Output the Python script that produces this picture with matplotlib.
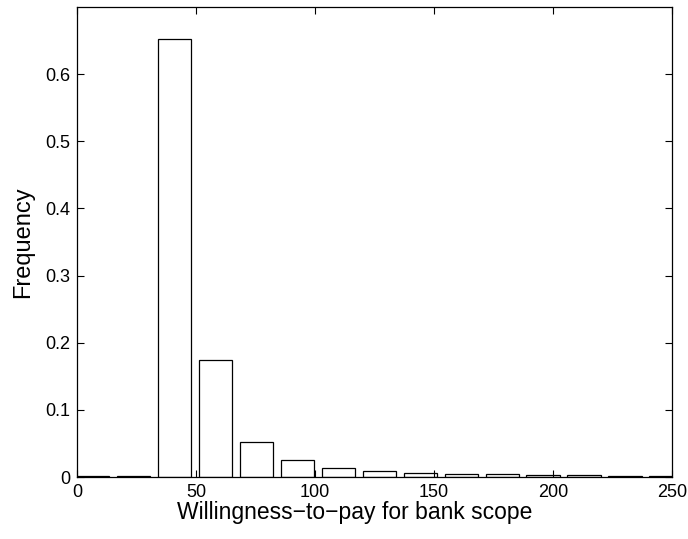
import matplotlib.pyplot as plt
import numpy as np

plt.rcParams['font.family'] = ['Liberation Sans', 'DejaVu Sans']

# Centros de los intervalos del histograma y frecuencias relativas
bin_centers = [6.6, 23.8, 41.0, 58.2, 75.4, 92.6, 109.8, 127.0, 144.2,
               161.4, 178.6, 195.8, 213.0, 230.2, 247.4]
frequencies = [0.001, 0.001, 0.652, 0.175, 0.052, 0.025, 0.0135, 0.009,
               0.0065, 0.005, 0.004, 0.0035, 0.0028, 0.0022, 0.0018]
bar_width = 14.0

x_ticks = [0, 50, 100, 150, 200, 250]
y_ticks = [0, 0.1, 0.2, 0.3, 0.4, 0.5, 0.6]
y_tick_labels = ['0', '0.1', '0.2', '0.3', '0.4', '0.5', '0.6']

fig = plt.figure(figsize=(6.88, 5.39), dpi=100)
ax = fig.add_axes([0.112, 0.115, 0.865, 0.872])

ax.bar(bin_centers, frequencies, width=bar_width, facecolor='white',
       edgecolor='black', linewidth=0.9)

ax.set_xlim(0, 250)
ax.set_ylim(0, 0.7)
ax.set_xticks(x_ticks)
ax.set_yticks(y_ticks)
ax.set_yticklabels(y_tick_labels)

# Estilo MATLAB: marcas hacia dentro en los cuatro lados
ax.tick_params(direction='in', top=True, right=True, length=5, width=0.8,
               labelsize=13, pad=5)
for spine in ax.spines.values():
    spine.set_linewidth(0.9)

ax.set_xlabel('Willingness\u2212to\u2212pay for bank scope', fontsize=16.5, labelpad=0)
ax.xaxis.label.set_x(0.466)  # en el original la etiqueta queda algo a la izquierda
ax.set_ylabel('Frequency', fontsize=17, labelpad=8)

plt.savefig('out.png', dpi=100)
plt.close(fig)
